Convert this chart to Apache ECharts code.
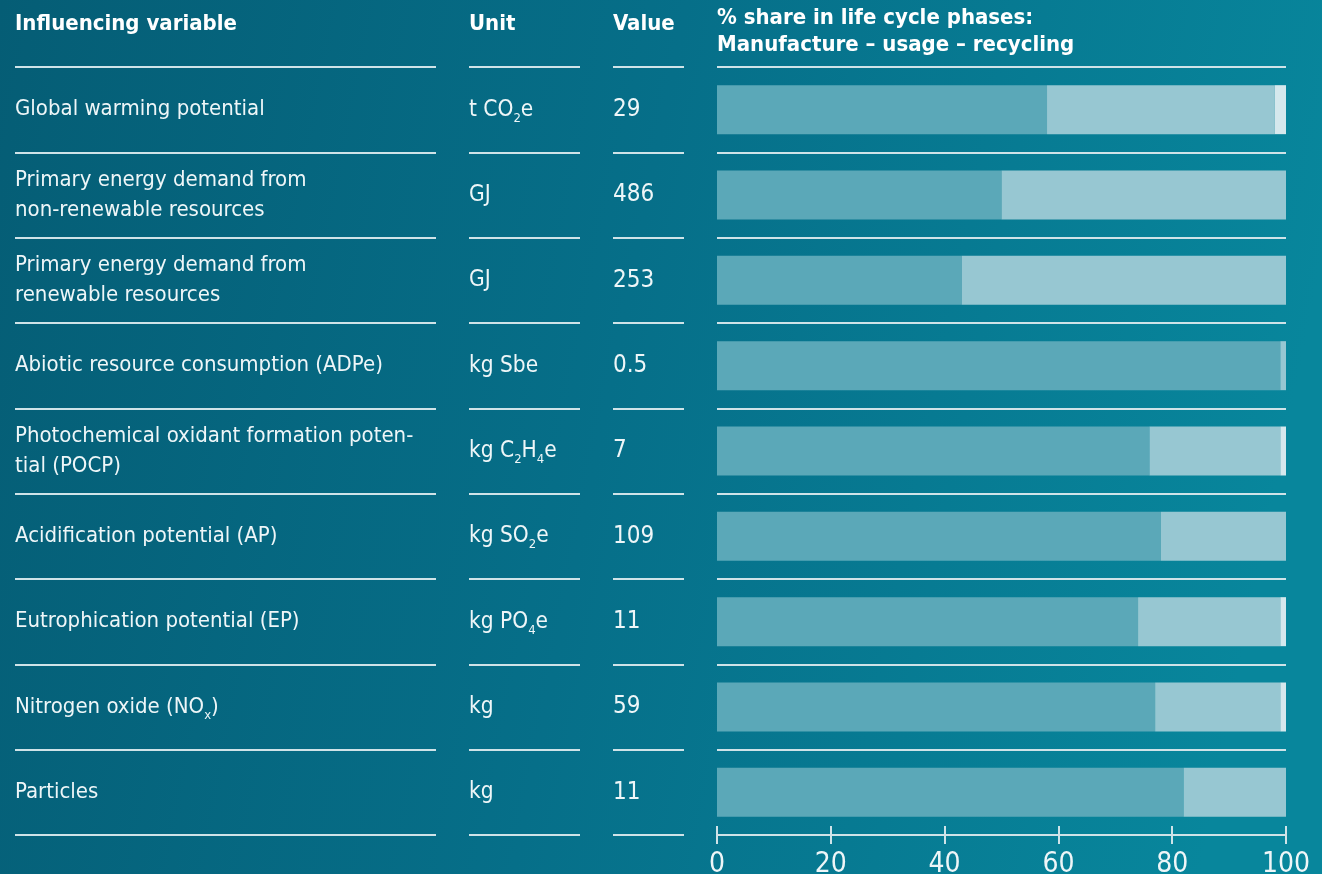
<!DOCTYPE html>
<html>
<head>
<meta charset="utf-8">
<script src="https://cdn.jsdelivr.net/npm/echarts@6/dist/echarts.min.js"></script>
<style>html,body{margin:0;padding:0;overflow:hidden;}#c{width:1322px;height:874px;}</style>
</head>
<body>
<div id="c"></div>
<script>
const categories = [
  'Global warming potential',
  'Primary energy demand from\nnon-renewable resources',
  'Primary energy demand from\nrenewable resources',
  'Abiotic resource consumption (ADPe)',
  'Photochemical oxidant formation poten-\ntial (POCP)',
  'Acidification potential (AP)',
  'Eutrophication potential (EP)',
  'Nitrogen oxide (NO{sub|x})',
  'Particles'
];
const units = ['t CO{sub|2}e', 'GJ', 'GJ', 'kg Sbe', 'kg C{sub|2}H{sub|4}e', 'kg SO{sub|2}e', 'kg PO{sub|4}e', 'kg', 'kg'];
const values = ['29', '486', '253', '0.5', '7', '109', '11', '59', '11'];
const manufacture = [58, 50, 43, 99, 76, 78, 74, 77, 82];
const usage = [40, 50, 57, 1, 23, 22, 25, 22, 18];
const recycling = [2, 0, 0, 0, 1, 0, 1, 1, 0];
const xTicks = [0, 20, 40, 60, 80, 100];

const FONT = "'DejaVu Sans Condensed', 'Liberation Sans Narrow', 'Roboto', sans-serif";
const LINE = '#cfe3e8';
const TXT = '#eef6f8';
const TOP = 67, BOTTOM = 874 - 835;

const chart = echarts.init(document.getElementById('c'));

const rich = {
  sub: { fontSize: 13, color: TXT, fontFamily: FONT, padding: [17, 0, 0, 0] }
};

function labelAxis(gridIndex, fmt, size) {
  return {
    type: 'category', gridIndex, inverse: true, data: categories,
    axisLine: { show: false }, axisTick: { show: false },
    splitLine: { show: true, lineStyle: { color: LINE, width: 2 } },
    axisLabel: {
      show: fmt !== null, inside: true, margin: 0, color: TXT, fontSize: size || 22, lineHeight: 30,
      fontFamily: FONT, formatter: fmt || undefined, rich
    }
  };
}

const headStyle = { fontSize: 22, fontWeight: 'bold', color: '#fff', fontFamily: FONT };

const option = {
  animation: false,
  backgroundColor: {
    type: 'linear', x: 0, y: 0, x2: 1, y2: 0.3,
    colorStops: [
      { offset: 0, color: '#055d75' },
      { offset: 0.5, color: '#066f89' },
      { offset: 1, color: '#08869c' }
    ]
  },
  title: [
    { text: 'Influencing variable', left: 15, top: 13, padding: 0, textStyle: headStyle },
    { text: 'Unit', left: 469, top: 13, padding: 0, textStyle: headStyle },
    { text: 'Value', left: 613, top: 13, padding: 0, textStyle: headStyle },
    { text: '% share in life cycle phases:\nManufacture – usage – recycling', left: 717, top: 5, padding: 0,
      textStyle: Object.assign({}, headStyle, { lineHeight: 27 }) }
  ],
  grid: [
    { left: 15, width: 421, top: TOP, bottom: BOTTOM, outerBoundsMode: 'none', containLabel: false },
    { left: 469, width: 111, top: TOP, bottom: BOTTOM, outerBoundsMode: 'none', containLabel: false },
    { left: 613, width: 71, top: TOP, bottom: BOTTOM, outerBoundsMode: 'none', containLabel: false },
    { left: 717, width: 569, top: TOP, bottom: BOTTOM, outerBoundsMode: 'none', containLabel: false }
  ],
  xAxis: [
    { type: 'value', gridIndex: 0, show: false },
    { type: 'value', gridIndex: 1, show: false },
    { type: 'value', gridIndex: 2, show: false },
    { type: 'value', gridIndex: 3, min: xTicks[0], max: xTicks[xTicks.length - 1], interval: 20,
      axisLine: { show: true, lineStyle: { color: LINE, width: 2 } },
      axisTick: { show: true, inside: true, length: 9, lineStyle: { color: LINE, width: 2 } },
      axisLabel: { show: false }, splitLine: { show: false } },
    { type: 'value', gridIndex: 3, min: xTicks[0], max: xTicks[xTicks.length - 1], interval: 20, position: 'bottom',
      axisLine: { show: true, lineStyle: { color: LINE, width: 2 } },
      axisTick: { show: true, length: 9, lineStyle: { color: LINE, width: 2 } },
      axisLabel: { show: true, margin: 16, color: TXT, fontSize: 28, fontFamily: FONT, verticalAlign: 'top' },
      splitLine: { show: false } }
  ],
  yAxis: [
    labelAxis(0, (v, i) => categories[i], 22),
    labelAxis(1, (v, i) => units[i], 22.5),
    labelAxis(2, (v, i) => values[i], 24),
    labelAxis(3, null)
  ],
  series: [
    { name: 'Manufacture', type: 'bar', stack: 's', xAxisIndex: 3, yAxisIndex: 3, barWidth: 49, data: manufacture, itemStyle: { color: '#5ba8b8' } },
    { name: 'Usage', type: 'bar', stack: 's', xAxisIndex: 3, yAxisIndex: 3, barWidth: 49, data: usage, itemStyle: { color: '#97c7d2' } },
    { name: 'Recycling', type: 'bar', stack: 's', xAxisIndex: 3, yAxisIndex: 3, barWidth: 49, data: recycling, itemStyle: { color: '#d5e8ed' } }
  ]
};
chart.setOption(option);
</script>
</body>
</html>
